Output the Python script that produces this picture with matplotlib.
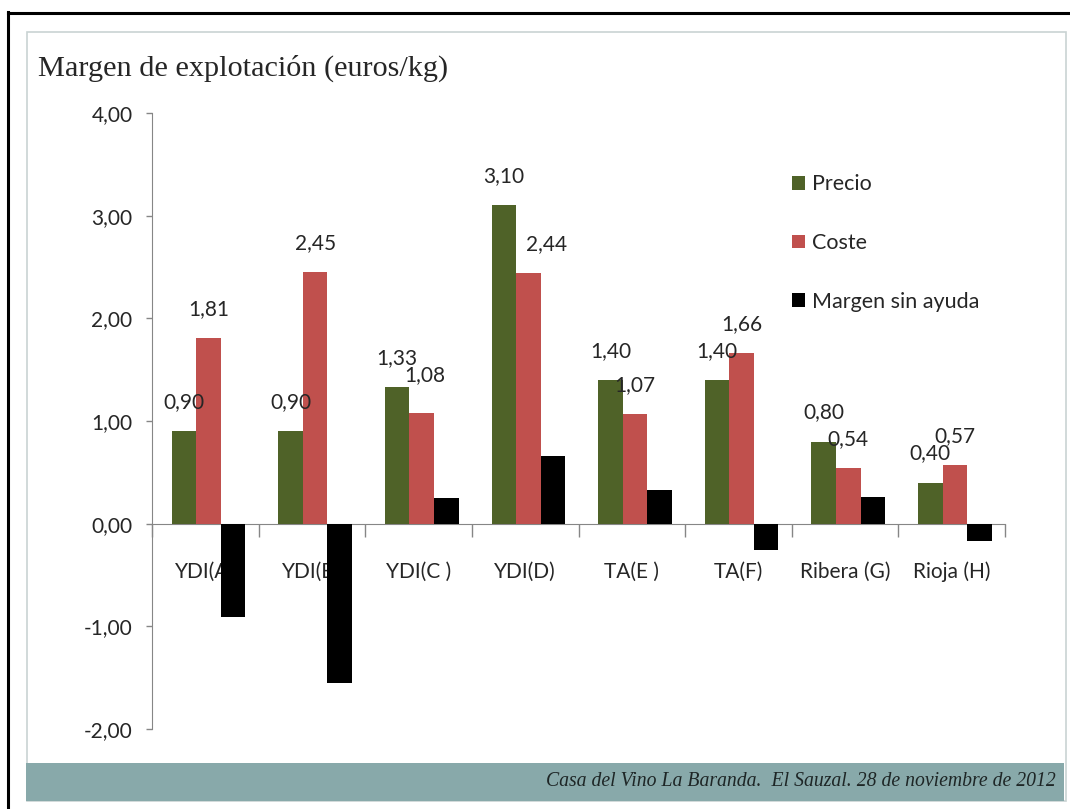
import matplotlib
matplotlib.use("Agg")
import matplotlib.pyplot as plt
from matplotlib.patches import Rectangle
from matplotlib.lines import Line2D
import numpy as np

categories = ["YDI(A)", "YDI(B)", "YDI(C )", "YDI(D)", "TA(E )", "TA(F)", "Ribera (G)", "Rioja (H)"]
precio = [0.90, 0.90, 1.33, 3.10, 1.40, 1.40, 0.80, 0.40]
coste = [1.81, 2.45, 1.08, 2.44, 1.07, 1.66, 0.54, 0.57]
margen = [-0.91, -1.55, 0.25, 0.66, 0.33, -0.26, 0.26, -0.17]
series_names = ["Precio", "Coste", "Margen sin ayuda"]
yticks = [-2, -1, 0, 1, 2, 3, 4]
title = "Margen de explotación (euros/kg)"
footer = "Casa del Vino La Baranda.  El Sauzal. 28 de noviembre de 2012"

W, H = 1070, 809
fig = plt.figure(figsize=(W / 100, H / 100), dpi=100)
fig.patch.set_facecolor("white")

def fx(px):
    return px / W

def fy(py):
    return 1 - py / H

# frame decorations (behind the axes)
fig.add_artist(Rectangle((fx(27), fy(801)), fx(1066) - fx(27), fy(32) - fy(801),
                         facecolor="white", edgecolor="#c9d3d3", lw=1.2, zorder=-3))
fig.add_artist(Rectangle((fx(26), fy(801)), fx(1064) - fx(26), fy(763) - fy(801),
                         facecolor="#88a9aa", edgecolor="none", zorder=-2))
fig.add_artist(Line2D([fx(8), fx(8)], [fy(12), fy(809)], color="black", lw=2.2, zorder=-1))
fig.add_artist(Line2D([fx(8), fx(1070)], [fy(13), fy(13)], color="black", lw=2.2, zorder=-1))
fig.text(fx(1056), fy(782), footer, ha="right", va="center", fontsize=14.2,
         family="Liberation Serif", style="italic", color="#1e2626")
fig.text(fx(38), fy(68), title, ha="left", va="center", fontsize=21.8,
         family="Liberation Serif", color="#262626")

ax = fig.add_axes([fx(152), fy(729), fx(1005) - fx(152), fy(113) - fy(729)])
ax.set_facecolor("none")
ax.set_zorder(1)

x = np.arange(len(categories)) + 0.03
w = 0.23
cols = ["#4f6228", "#c0504d", "#000000"]
b1 = ax.bar(x - w, precio, w, color=cols[0], zorder=3, label=series_names[0])
b2 = ax.bar(x, coste, w, color=cols[1], zorder=3, label=series_names[1])
b3 = ax.bar(x + w, margen, w, color=cols[2], zorder=3, label=series_names[2])

# label nudges in pixels (series index, category index) -> (dx, dy)
nudge = {(1, 3): (18, 0), (1, 2): (3, 9)}

lab_font = dict(family="Lato", fontsize=15, color="#262626")
for si, (bars, vals) in enumerate(((b1, precio), (b2, coste))):
    for ci, (r, v) in enumerate(zip(bars, vals)):
        dx, dy = nudge.get((si, ci), (0, 0))
        ax.annotate(f"{v:.2f}".replace(".", ","), (r.get_x() + r.get_width() / 2, v),
                    xytext=(dx * 0.72, 21 + dy * 0.72), textcoords="offset points",
                    ha="center", va="center", zorder=4, **lab_font)

ax.set_xlim(-0.5, len(categories) - 0.5)
ax.set_ylim(-2, 4)
ax.set_yticks(yticks)
ax.set_yticklabels([f"{t:.2f}".replace(".", ",") for t in yticks], **lab_font)
ax.tick_params(axis="y", direction="out", length=4, width=1, color="#868686", pad=10)

for s in ("top", "right"):
    ax.spines[s].set_visible(False)
ax.spines["left"].set_color("#868686")
ax.spines["bottom"].set_color("#868686")
ax.spines["bottom"].set_position(("data", 0))
ax.spines["bottom"].set_zorder(2)
ax.set_xticks(np.arange(len(categories) + 1) - 0.5)
ax.set_xticklabels([])
ax.tick_params(axis="x", direction="out", length=9, width=1, color="#868686")

for i, c in enumerate(categories):
    ax.text(i, -0.47, c, ha="center", va="center", zorder=2, **lab_font)

leg = ax.legend(handles=[b1, b2, b3], loc="upper left", bbox_to_anchor=(0.728, 0.932),
                frameon=False, handlelength=0.6, handleheight=0.6, handletextpad=0.3,
                labelspacing=1.8, prop=dict(family="Lato", size=15.5))
for t in leg.get_texts():
    t.set_color("#262626")

fig.savefig("out.png", dpi=100)
